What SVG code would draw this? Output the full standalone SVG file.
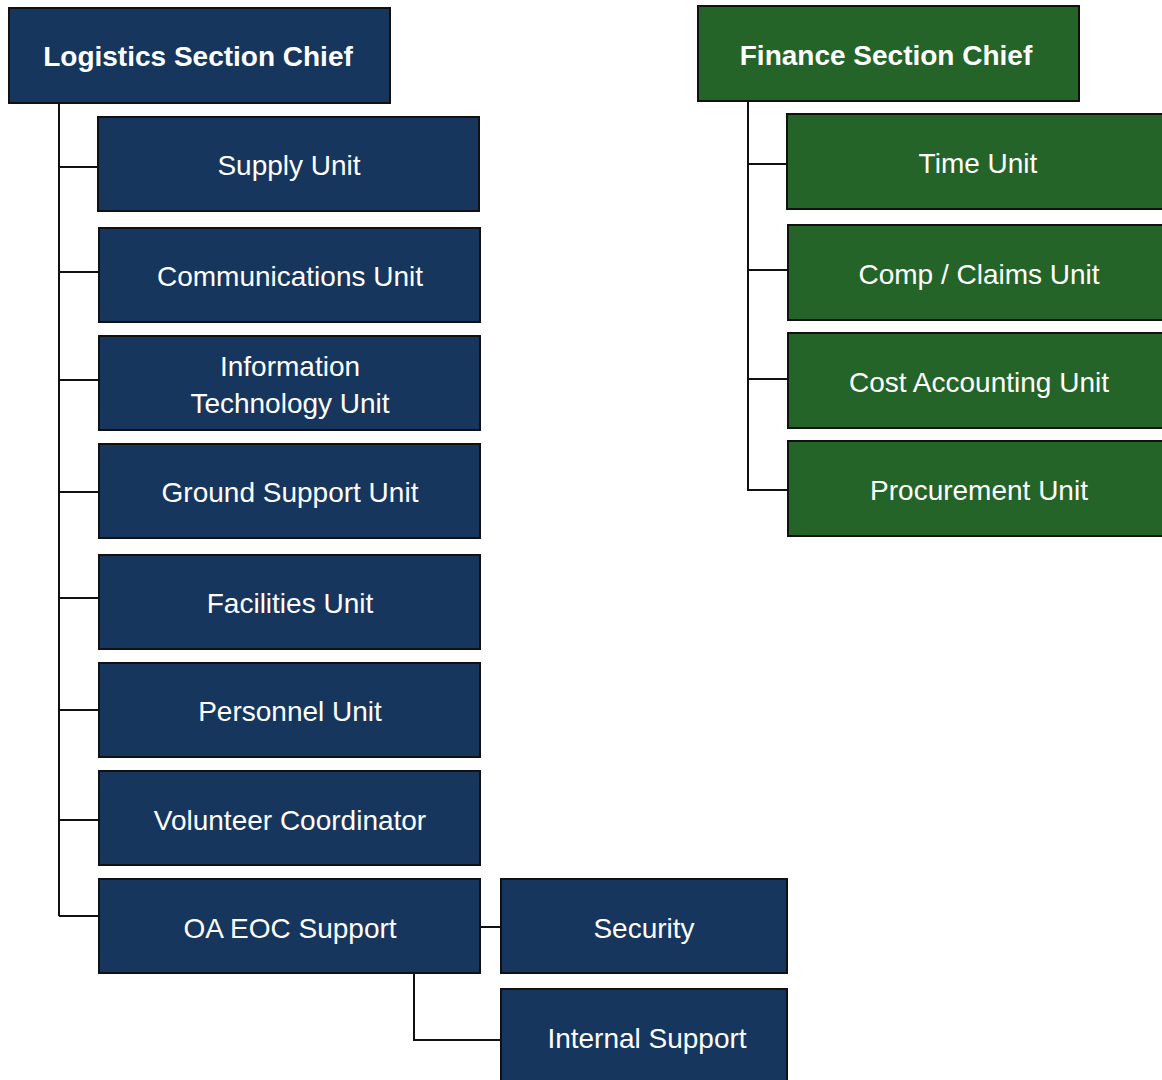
<svg xmlns="http://www.w3.org/2000/svg" width="1162" height="1080" viewBox="0 0 1162 1080">
<style>
.n{fill:#17365d;stroke:#111;stroke-width:2}
.g{fill:#246428;stroke:#111;stroke-width:2}
.t{font-family:"Liberation Sans",Arial,sans-serif;font-size:28px;fill:#fff;text-anchor:middle}
.b{font-weight:bold}
.c{fill:none;stroke:#111;stroke-width:2}
</style>
<rect width="1162" height="1080" fill="#fff"/>
<g id="connectors">
<path class="c" d="M59 103V916M59 167H98M59 272H99M59 380H99M59 492H99M59 598H99M59 710H99M59 820H99M59 916H99"/>
<path class="c" d="M480 927H501M414 973V1040H501"/>
<path class="c" d="M748 101V490H788M748 164H787M748 270H788M748 379H788"/>
</g>
<g id="logistics-chief"><rect class="n" x="9" y="8" width="381" height="95"/><text class="t b" x="198" y="66">Logistics Section Chief</text></g>
<g id="supply"><rect class="n" x="98" y="117" width="381" height="94"/><text class="t" x="289" y="175">Supply Unit</text></g>
<g id="communications"><rect class="n" x="99" y="228" width="381" height="94"/><text class="t" x="290" y="286">Communications Unit</text></g>
<g id="it"><rect class="n" x="99" y="336" width="381" height="94"/><text class="t" x="290" y="376">Information</text><text class="t" x="290" y="413">Technology Unit</text></g>
<g id="ground"><rect class="n" x="99" y="444" width="381" height="94"/><text class="t" x="290" y="502">Ground Support Unit</text></g>
<g id="facilities"><rect class="n" x="99" y="555" width="381" height="94"/><text class="t" x="290" y="613">Facilities Unit</text></g>
<g id="personnel"><rect class="n" x="99" y="663" width="381" height="94"/><text class="t" x="290" y="721">Personnel Unit</text></g>
<g id="volunteer"><rect class="n" x="99" y="771" width="381" height="94"/><text class="t" x="290" y="830">Volunteer Coordinator</text></g>
<g id="oa-eoc"><rect class="n" x="99" y="879" width="381" height="94"/><text class="t" x="290" y="938">OA EOC Support</text></g>
<g id="security"><rect class="n" x="501" y="879" width="286" height="94"/><text class="t" x="644" y="938">Security</text></g>
<g id="internal"><rect class="n" x="501" y="989" width="286" height="96"/><text class="t" x="647" y="1048">Internal Support</text></g>
<g id="finance-chief"><rect class="g" x="698" y="6" width="381" height="95"/><text class="t b" x="886" y="65">Finance Section Chief</text></g>
<g id="time"><rect class="g" x="787" y="114" width="382" height="95"/><text class="t" x="978" y="173">Time Unit</text></g>
<g id="comp"><rect class="g" x="788" y="225" width="382" height="95"/><text class="t" x="979" y="284">Comp / Claims Unit</text></g>
<g id="cost"><rect class="g" x="788" y="333" width="382" height="95"/><text class="t" x="979" y="392">Cost Accounting Unit</text></g>
<g id="procurement"><rect class="g" x="788" y="441" width="382" height="95"/><text class="t" x="979" y="500">Procurement Unit</text></g>
</svg>
